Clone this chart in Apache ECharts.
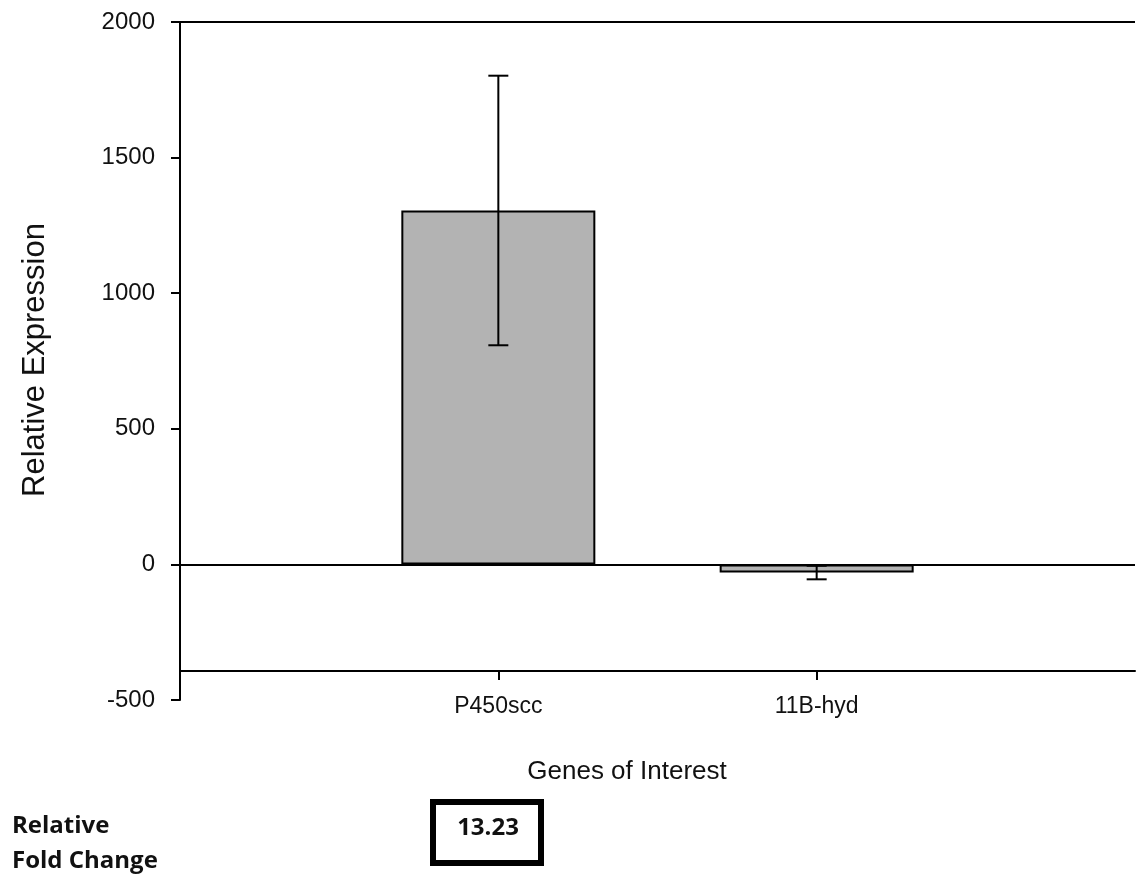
<!DOCTYPE html>
<html>
<head>
<meta charset="utf-8">
<script src="https://cdn.jsdelivr.net/npm/echarts@6/dist/echarts.min.js"></script>
<style>
html,body{margin:0;padding:0;background:#fff;}
#chart{width:1138px;height:874px;}
</style>
</head>
<body>
<div id="chart"></div>
<script>
// ---- data ----
const categories = ['P450scc', '11B-hyd'];
const values = [1305, -30];
const errors = [497, 25];
const yTicks = [-500, 0, 500, 1000, 1500, 2000];
const foldChange = '13.23';

// padded category axis so the two genes sit at 1/3 and 2/3 of the width
const axisCats = [''].concat(categories, ['']);
const barData = ['-'].concat(values, ['-']);
const errData = values.map((v, i) => [i + 1, v - errors[i], v + errors[i]]);

const chart = echarts.init(document.getElementById('chart'));
const FONT = '"Liberation Sans", Arial, sans-serif';
const BOLDFONT = '"Open Sans", Lato, sans-serif';

chart.setOption({
  animation: false,
  backgroundColor: '#fff',
  grid: { left: 180, right: 0, top: 22, bottom: 174, containLabel: false },
  xAxis: {
    type: 'category',
    data: axisCats,
    boundaryGap: false,
    offset: -29,
    axisLine: { show: true, onZero: false, lineStyle: { color: '#000', width: 2 } },
    axisTick: { show: true, length: 9, lineStyle: { color: '#000', width: 2 },
      interval: (i) => i > 0 && i <= categories.length },
    axisLabel: { show: true, interval: 0, margin: 24, fontFamily: FONT, fontSize: 23, color: '#111' },
    splitLine: { show: false }
  },
  yAxis: {
    type: 'value',
    min: yTicks[0],
    max: yTicks[yTicks.length - 1],
    interval: 500,
    axisLine: { show: true, lineStyle: { color: '#000', width: 2 } },
    axisTick: { show: true, length: 9, lineStyle: { color: '#000', width: 2 } },
    axisLabel: { margin: 25, fontFamily: FONT, fontSize: 24, color: '#111',
      formatter: (v) => String(v) },
    splitLine: { show: false }
  },
  series: [
    {
      type: 'bar',
      data: barData,
      barWidth: 194,
      itemStyle: { color: '#b3b3b3', borderColor: '#000', borderWidth: 2 },
      markLine: {
        silent: true,
        symbol: ['none', 'none'],
        label: { show: false },
        lineStyle: { color: '#000', width: 2, type: 'solid' },
        data: [{ yAxis: 0 }, { yAxis: yTicks[yTicks.length - 1] }]
      },
      z: 2
    },
    {
      type: 'custom',
      data: errData,
      z: 5,
      renderItem: function (params, api) {
        const x = api.value(0);
        const lo = api.coord([x, api.value(1)]);
        const hi = api.coord([x, api.value(2)]);
        const hw = 10;
        const st = { stroke: '#000', lineWidth: 2 };
        return {
          type: 'group',
          children: [
            { type: 'line', shape: { x1: hi[0], y1: hi[1], x2: lo[0], y2: lo[1] }, style: st },
            { type: 'line', shape: { x1: hi[0] - hw, y1: hi[1], x2: hi[0] + hw, y2: hi[1] }, style: st },
            { type: 'line', shape: { x1: lo[0] - hw, y1: lo[1], x2: lo[0] + hw, y2: lo[1] }, style: st }
          ]
        };
      }
    }
  ],
  graphic: [
    {
      type: 'text', x: 35, y: 360, rotation: Math.PI / 2,
      style: { text: 'Relative Expression', fontFamily: FONT, fontSize: 31, fill: '#111',
        align: 'center', verticalAlign: 'middle' }
    },
    {
      type: 'text', x: 627, y: 772,
      style: { text: 'Genes of Interest', fontFamily: FONT, fontSize: 26, fill: '#111',
        align: 'center', verticalAlign: 'middle' }
    },
    {
      type: 'text', x: 12, y: 826,
      style: { text: 'Relative', fontFamily: BOLDFONT, fontWeight: 'bold',
        fontSize: 24, fill: '#111', align: 'left', verticalAlign: 'middle' }
    },
    {
      type: 'text', x: 12, y: 861,
      style: { text: 'Fold Change', fontFamily: BOLDFONT, fontWeight: 'bold',
        fontSize: 24, fill: '#111', align: 'left', verticalAlign: 'middle' }
    },
    {
      type: 'rect', shape: { x: 433, y: 802, width: 108, height: 61 },
      style: { fill: '#fff', stroke: '#000', lineWidth: 6 }
    },
    {
      type: 'text', x: 488, y: 828,
      style: { text: foldChange, fontFamily: BOLDFONT, fontWeight: 'bold',
        fontSize: 24, fill: '#111', align: 'center', verticalAlign: 'middle' }
    }
  ]
});
</script>
</body>
</html>
